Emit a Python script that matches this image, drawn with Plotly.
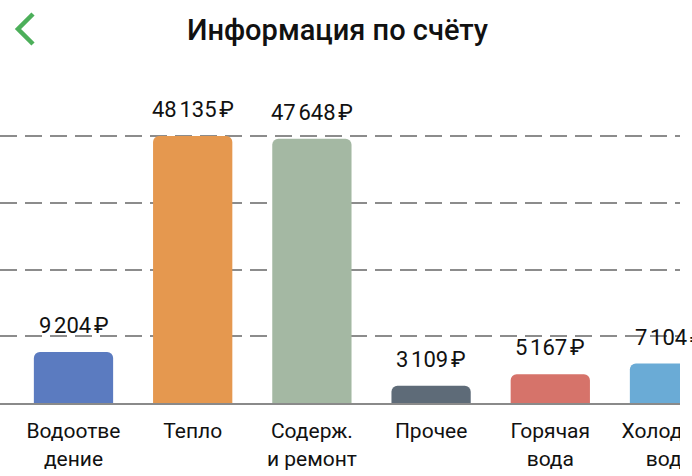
import plotly.graph_objects as go

categories = ["Водоотве<br>дение", "Тепло", "Содерж.<br>и ремонт", "Прочее", "Горячая<br>вода", "Холодная<br>вода"]
values = [9204, 48135, 47648, 3109, 5167, 7104]
value_labels = ["9\u202f204\u202f₽", "48\u202f135\u202f₽", "47\u202f648\u202f₽", "3\u202f109\u202f₽", "5\u202f167\u202f₽", "7\u202f104\u202f₽"]
colors = ["#5b7bc0", "#e5984f", "#a4b8a3", "#5e6b78", "#d6736a", "#6aabd6"]
title_text = "Информация по счёту"

W, H = 692, 476
L, R, T, B = 0, 12, 100, 73
pw, ph = W - L - R, H - T - B
ymax = max(values)
yrange_top = ymax * ph / 267.0

FONT = "Roboto, 'Noto Sans', sans-serif"

fig = go.Figure()
fig.add_trace(go.Bar(
    x=categories, y=values,
    marker=dict(color=colors, line=dict(width=0), cornerradius=6),
    width=0.665,
    hoverinfo="skip",
))

for c, v, t in zip(categories, values, value_labels):
    fig.add_annotation(x=c, y=v, text=t, showarrow=False, yanchor="bottom",
                       yshift=12, font=dict(family=FONT, size=22, color="#111"))

def px2paper(px, py):
    return (px - L) / pw, (H - B - py) / ph

# back chevron
p1 = px2paper(33, 14)
p2 = px2paper(18, 29)
p3 = px2paper(33, 44)
fig.add_shape(type="path", xref="paper", yref="paper",
              path=f"M {p1[0]},{p1[1]} L {p2[0]},{p2[1]} L {p3[0]},{p3[1]}",
              line=dict(color="#4caf5a", width=4.5), layer="above")

# right-edge clipping strip
fig.add_shape(type="rect", xref="paper", yref="paper", x0=1, x1=1.2, y0=-0.5, y1=1.5,
              fillcolor="white", line=dict(width=0), layer="above")

fig.update_layout(
    width=W, height=H,
    margin=dict(l=L, r=R, t=T, b=B, autoexpand=False),
    paper_bgcolor="white", plot_bgcolor="white",
    showlegend=False,
    title=dict(text=title_text, x=337.5 / W, xanchor="center", xref="container",
               y=1 - 30 / H, yanchor="middle", yref="container",
               font=dict(family=FONT, size=29, color="#111", weight=500)),
    xaxis=dict(range=[-0.6166, -0.6166 + pw / 119.2], showgrid=False, zeroline=False,
               showline=True, linecolor="#8a8a8a", linewidth=2, automargin=False,
               ticks="", tickfont=dict(family=FONT, size=21, color="#111"),
               ticklabelstandoff=8),
    yaxis=dict(range=[0, yrange_top], showgrid=True, gridcolor="#8c8c8c", gridwidth=2,
               griddash="17px,8px", tick0=0, dtick=ymax / 4, showticklabels=False,
               zeroline=False, ticks="", automargin=False),
)

fig.write_html("out.html", config={"displayModeBar": False, "staticPlot": True},
               post_script="document.body.style.margin='0';document.body.style.overflow='hidden';")
